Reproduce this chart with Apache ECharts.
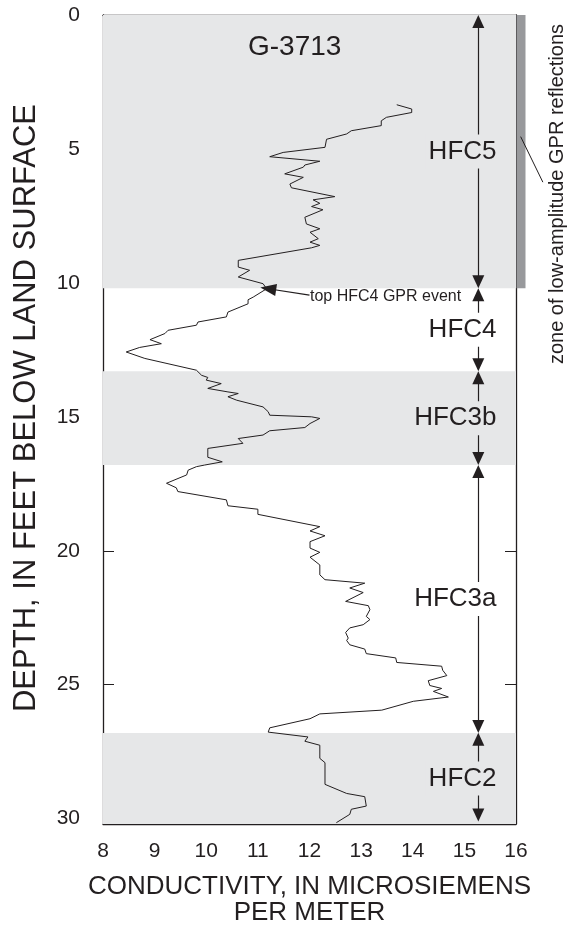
<!DOCTYPE html>
<html>
<head>
<meta charset="utf-8">
<script src="https://cdn.jsdelivr.net/npm/echarts/dist/echarts.min.js"></script>
<style>
html,body{margin:0;padding:0;background:#fff}
#main{width:571px;height:927px}
</style>
</head>
<body>
<div id="main"></div>
<script>
// conductivity log, G-3713 (microsiemens per meter vs depth in feet)
var conductivity = [
  13.69, 13.98, 13.98, 13.49, 13.39, 13.39, 12.81, 12.72, 12.33, 12.30,
  11.49, 11.23, 12.20, 11.91, 11.88, 11.52, 11.88, 11.62, 11.65, 12.49,
  12.07, 12.20, 12.04, 12.26, 11.91, 11.94, 12.20, 12.01, 12.17, 12.01,
  12.20, 12.04, 10.62, 10.62, 10.84, 10.62, 11.10, 11.17, 10.91, 10.81,
  10.81, 10.42, 10.39, 9.84, 9.81, 9.26, 9.20, 8.91, 9.13, 8.71,
  8.45, 8.81, 9.81, 9.91, 10.03, 10.00, 10.29, 10.03, 10.42, 10.62,
  10.42, 10.59, 11.10, 11.20, 11.23, 12.04, 12.20, 12.01, 11.91, 11.23,
  11.10, 10.62, 10.71, 10.03, 10.03, 10.31, 9.97, 9.81, 9.65, 9.62,
  9.23, 9.42, 9.45, 10.39, 10.42, 11.00, 11.00, 12.20, 12.01, 12.30,
  12.01, 12.01, 12.20, 12.01, 12.20, 12.20, 12.30, 13.07, 12.78, 13.04,
  12.70, 13.14, 13.17, 13.10, 13.17, 13.04, 12.78, 12.70, 12.75, 12.72,
  12.78, 13.07, 13.10, 13.67, 13.69, 14.56, 14.58, 14.66, 14.30, 14.33,
  14.56, 14.40, 14.69, 14.01, 13.40, 12.20, 12.01, 11.23, 11.20, 11.97,
  11.91, 12.20, 12.20, 12.30, 12.30, 12.72, 13.07, 13.10, 12.81, 12.78,
  12.52
];
var depth = [
  3.35, 3.51, 3.64, 3.82, 3.95, 4.13, 4.32, 4.44, 4.64, 4.94,
  5.13, 5.29, 5.46, 5.60, 5.68, 5.93, 6.06, 6.31, 6.45, 6.78,
  6.90, 7.03, 7.15, 7.27, 7.55, 7.80, 7.98, 8.11, 8.35, 8.48,
  8.60, 8.69, 9.16, 9.41, 9.53, 9.78, 10.03, 10.22, 10.53, 10.63,
  10.78, 11.09, 11.27, 11.46, 11.58, 11.77, 11.89, 12.12, 12.27, 12.41,
  12.58, 12.82, 13.26, 13.45, 13.53, 13.63, 13.76, 13.94, 14.07, 14.13,
  14.25, 14.38, 14.63, 14.81, 14.94, 15.00, 15.06, 15.25, 15.40, 15.52,
  15.68, 15.81, 15.99, 16.18, 16.51, 16.68, 16.80, 16.86, 16.99, 17.17,
  17.48, 17.65, 17.79, 18.10, 18.32, 18.45, 18.64, 19.10, 19.26, 19.44,
  19.66, 19.90, 20.06, 20.24, 20.53, 20.90, 21.08, 21.21, 21.39, 21.56,
  21.89, 22.05, 22.20, 22.45, 22.57, 22.76, 22.88, 23.05, 23.26, 23.35,
  23.51, 23.67, 23.84, 24.00, 24.17, 24.31, 24.46, 24.66, 24.85, 25.03,
  25.14, 25.25, 25.46, 25.62, 25.95, 26.09, 26.27, 26.61, 26.77, 26.95,
  27.11, 27.26, 27.75, 27.91, 28.72, 29.06, 29.18, 29.53, 29.65, 29.84,
  30.15
];

// hydrogeologic units (depth tops / bottoms, feet)
var unitNames = ['HFC5', 'HFC4', 'HFC3b', 'HFC3a', 'HFC2'];
var unitTops = [0, 10.2, 13.3, 16.8, 26.8];
var unitBottoms = [10.2, 13.3, 16.8, 26.8, 30.2];
var shadedBands = [[0, 10.2], [13.3, 16.8], [26.8, 30.2]];
var gprZone = [0, 10.2];
var arrowX = 15.27;
var unitLabelX = 15.69;
var gprEvent = { tip: [11.2, 10.22], tail: [12.0, 10.46], text: 'top HFC4 GPR event' };

var depthMin = 0, depthMax = 30.2, depthStep = 5;
var condMin = 8, condMax = 16, condStep = 1;

var ink = '#231f20';
var bandGray = '#e6e7e8';
var zoneGray = '#98999c';
var fontFam = '"Liberation Sans", Arial, Helvetica, sans-serif';

var logData = conductivity.map(function (c, i) { return [c, depth[i]]; });

function inBand(d) {
  return shadedBands.some(function (b) { return d >= b[0] && d <= b[1]; });
}

var arrowHalf = 0.24; // half arrowhead height in feet
var unitArrows = unitNames.map(function (n, i) {
  return [
    { coord: [arrowX, unitTops[i] + arrowHalf] },
    { coord: [arrowX, Math.min(unitBottoms[i], 30.1) - arrowHalf] }
  ];
});
var unitLabels = unitNames.map(function (n, i) {
  var mid = (unitTops[i] + unitBottoms[i]) / 2;
  return {
    value: [unitLabelX, mid],
    label: { formatter: n, backgroundColor: inBand(mid) ? bandGray : '#fff' }
  };
});

var chart = echarts.init(document.getElementById('main'), null, { renderer: 'canvas' });

var axisCommon = {
  axisLine: { show: true, onZero: false, lineStyle: { color: ink, width: 1.3 } },
  axisTick: { show: true, inside: true, length: 11, lineStyle: { color: ink, width: 1 } },
  splitLine: { show: false }
};

var hiddenDot = { color: 'rgba(0,0,0,0)', opacity: 1 };

var option = {
  animation: false,
  backgroundColor: '#fff',
  title: {
    text: 'G-3713',
    left: 248, top: 33, padding: 0,
    textStyle: { fontFamily: fontFam, fontSize: 28, fontWeight: 'normal', color: ink }
  },
  grid: { left: 103, right: 55, top: 15, bottom: 103, containLabel: false, outerBoundsMode: 'none' },
  xAxis: [
    Object.assign({
      type: 'value', position: 'bottom', min: condMin, max: condMax, interval: condStep,
      name: 'CONDUCTIVITY, IN MICROSIEMENS\nPER METER',
      nameLocation: 'middle', nameGap: 50,
      nameTextStyle: { fontFamily: fontFam, fontSize: 26, color: ink, lineHeight: 26, verticalAlign: 'top' },
      axisLabel: { margin: 17, fontFamily: fontFam, fontSize: 21, color: ink }
    }, axisCommon),
    Object.assign({
      type: 'value', position: 'top', min: condMin, max: condMax, interval: condStep,
      axisLabel: { show: false }
    }, axisCommon)
  ],
  yAxis: [
    Object.assign({
      type: 'value', position: 'left', inverse: true, min: depthMin, max: depthMax, interval: depthStep,
      axisLabel: {
        margin: 23, fontFamily: fontFam, fontSize: 21, color: ink,
        formatter: function (v) { return v % depthStep === 0 ? String(v) : ''; }
      }
    }, axisCommon),
    Object.assign({
      type: 'value', position: 'right', inverse: true, min: depthMin, max: depthMax, interval: depthStep,
      axisLabel: { show: false }
    }, axisCommon)
  ],
  series: [
    {
      type: 'line',
      data: logData,
      showSymbol: false,
      symbol: 'none',
      lineStyle: { color: ink, width: 1 },
      z: 3,
      markArea: {
        silent: true,
        itemStyle: { color: bandGray },
        data: shadedBands.map(function (b) { return [{ yAxis: b[0] }, { yAxis: b[1] }]; })
      }
    },
    {
      type: 'line',
      data: [],
      z: 4,
      markLine: {
        silent: true,
        symbol: ['triangle', 'triangle'],
        symbolSize: [12, 13],
        label: { show: false },
        lineStyle: { color: ink, width: 1.2, type: 'solid' },
        data: unitArrows.concat([[
          { coord: gprEvent.tail, symbol: 'none' },
          { coord: gprEvent.tip, symbol: 'triangle', symbolSize: [12, 16] }
        ]])
      }
    },
    {
      type: 'scatter',
      z: 5,
      symbolSize: 1,
      itemStyle: hiddenDot,
      label: {
        show: true, position: 'left', distance: 0,
        fontFamily: fontFam, fontSize: 26, color: ink,
        padding: [4, 3, 4, 3]
      },
      labelLayout: { hideOverlap: false },
      data: unitLabels
    },
    {
      type: 'scatter',
      z: 5,
      symbolSize: 1,
      itemStyle: hiddenDot,
      label: {
        show: true, position: 'right', distance: 0,
        fontFamily: fontFam, fontSize: 16, color: ink,
        formatter: gprEvent.text
      },
      data: [[gprEvent.tail[0], gprEvent.tail[1] + 0.04]]
    }
  ]
};

chart.setOption(option);

// annotations outside the plot frame: GPR zone bar, leader, rotated notes
var barTop = chart.convertToPixel({ xAxisIndex: 0, yAxisIndex: 0 }, [condMax, gprZone[0]]);
var barBot = chart.convertToPixel({ xAxisIndex: 0, yAxisIndex: 0 }, [condMax, gprZone[1]]);
var leadA = chart.convertToPixel({ xAxisIndex: 0, yAxisIndex: 0 }, [16.09, 4.54]);
var leadB = chart.convertToPixel({ xAxisIndex: 0, yAxisIndex: 0 }, [16.52, 6.24]);

chart.setOption({
  graphic: [
    {
      type: 'rect', z: 10,
      shape: { x: barTop[0] + 0.5, y: barTop[1], width: 9, height: barBot[1] - barTop[1] },
      style: { fill: zoneGray }
    },
    {
      type: 'line', z: 10,
      shape: { x1: leadA[0], y1: leadA[1], x2: leadB[0], y2: leadB[1] },
      style: { stroke: ink, lineWidth: 1 }
    },
    {
      type: 'text', z: 10,
      x: 557, y: 194, rotation: Math.PI / 2,
      style: {
        text: 'zone of low-amplitude GPR reflections',
        fontFamily: fontFam, fontSize: 20, fill: ink,
        textAlign: 'center', textVerticalAlign: 'middle'
      }
    },
    {
      type: 'text', z: 10,
      x: 26, y: 408, rotation: Math.PI / 2,
      style: {
        text: 'DEPTH, IN FEET BELOW LAND SURFACE',
        fontFamily: fontFam, fontSize: 31, fill: ink,
        textAlign: 'center', textVerticalAlign: 'middle'
      }
    }
  ]
});
</script>
</body>
</html>
